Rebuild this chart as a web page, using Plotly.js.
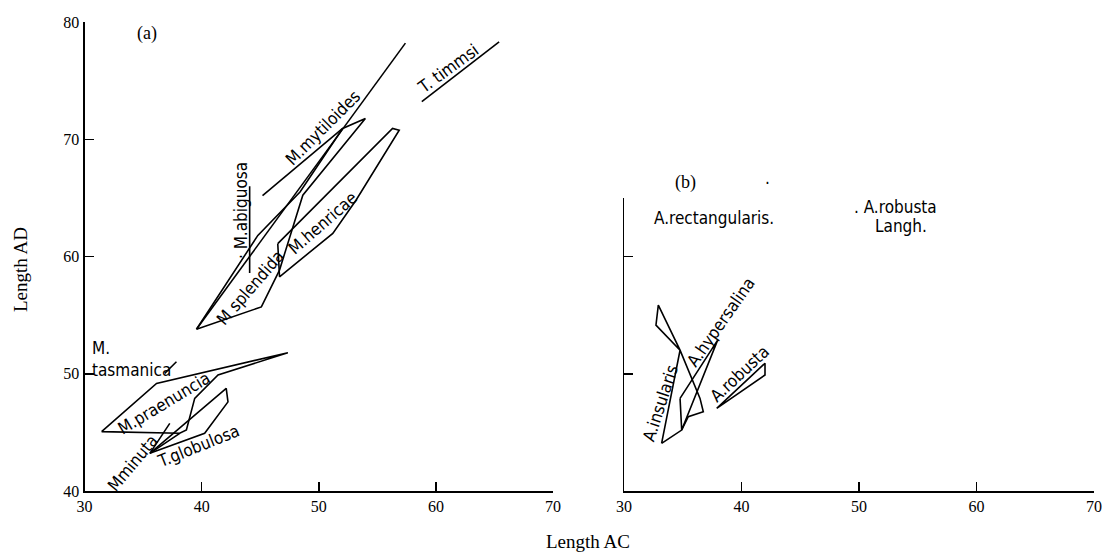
<!DOCTYPE html>
<html>
<head>
<meta charset="utf-8">
<script src="https://cdn.plot.ly/plotly-3.0.1.min.js"></script>
<style>
html,body{margin:0;padding:0;background:#fff;}
#chart{width:1107px;height:555px;}
</style>
</head>
<body>
<div id="chart"></div>
<script>
// ---- Panel (a) data: Length AC (x) vs Length AD (y) ----
const mytiloidesLineX = [39.56, 57.4];
const mytiloidesLineY = [53.79, 78.2];
const mytiloidesTickX = [45.2, 52.04];
const mytiloidesTickY = [65.2, 70.92];
const timmsiX = [58.8, 65.4];
const timmsiY = [73.2, 78.3];
const abiguosaX = [44.1, 44.1];
const abiguosaY = [66.0, 58.6];
const splendidaX = [39.56, 44.8, 48.4, 52.04, 53.98, 48.64, 46.65, 45.1, 39.56];
const splendidaY = [53.79, 61.8, 65.5, 70.92, 71.77, 65.23, 58.84, 55.7, 53.79];
const henricaeX = [46.5, 46.65, 51.2, 53.18, 56.87, 56.3, 46.5];
const henricaeY = [61.1, 58.27, 61.97, 64.8, 70.77, 70.92, 61.1];
const tasmanicaX = [36.85, 37.85];
const tasmanicaY = [50.03, 51.02];
const praenunciaX = [31.46, 36.15, 47.36, 41.4, 39.41, 38.7, 38.13, 31.46];
const praenunciaY = [45.06, 49.18, 51.79, 49.9, 47.9, 45.2, 44.92, 45.06];
const minutaX = [37.28, 35.58, 38.13];
const minutaY = [45.77, 43.21, 44.92];
const globulosaX = [35.58, 40.26, 42.25, 42.1, 35.58];
const globulosaY = [43.21, 44.92, 47.6, 48.76, 43.21];

// ---- Panel (b) data ----
const insularisX = [33.2, 34.77, 32.72, 32.92, 34.77, 36.47, 36.75, 35.47, 34.91, 33.2];
const insularisY = [44.07, 52.02, 54.15, 55.86, 52.02, 47.9, 46.76, 46.34, 45.2, 44.07];
const hypersalinaX = [34.77, 37.97, 34.91, 34.77];
const hypersalinaY = [47.9, 52.87, 45.2, 47.9];
const robustaX = [37.89, 42.0, 42.0, 37.89];
const robustaY = [47.05, 50.9, 49.9, 47.05];

// ---- Axis ticks ----
const xTicks = [30, 40, 50, 60, 70];
const yTicksA = [40, 50, 60, 70, 80];
const yTicksB = [50, 60, 65];

const W = 1107, H = 555;
const lineStyle = {color: '#000', width: 1.6};
function tr(x, y, ax) {
  return {x: x, y: y, mode: 'lines', line: lineStyle, hoverinfo: 'skip',
          showlegend: false, xaxis: ax ? 'x2' : 'x', yaxis: ax ? 'y2' : 'y'};
}
const traces = [
  tr(mytiloidesLineX, mytiloidesLineY),
  tr(mytiloidesTickX, mytiloidesTickY),
  tr(timmsiX, timmsiY),
  tr(abiguosaX, abiguosaY),
  tr(splendidaX, splendidaY),
  tr(henricaeX, henricaeY),
  tr(tasmanicaX, tasmanicaY),
  tr(praenunciaX, praenunciaY),
  tr(minutaX, minutaY),
  tr(globulosaX, globulosaY),
  tr(insularisX, insularisY, 2),
  tr(hypersalinaX, hypersalinaY, 2),
  tr(robustaX, robustaY, 2)
];

const labFont = {family: "'Liberation Sans Narrow', 'DejaVu Sans Condensed', 'Liberation Sans', sans-serif", size: 17, color: '#000'};
function lab(text, x, y, ang, ax, extra) {
  return Object.assign({text: text, x: x, y: y, textangle: ang, showarrow: false,
    xanchor: 'center', yanchor: 'middle',
    xref: ax ? 'x2' : 'x', yref: ax ? 'y2' : 'y', font: labFont}, extra || {});
}
function plab(text, px, py, font) {
  return {text: text, x: px / W, y: (H - py) / H, xref: 'paper', yref: 'paper',
    xanchor: 'center', yanchor: 'middle', showarrow: false, font: font};
}
const serif = "'Liberation Serif', 'DejaVu Serif', serif";
const panelFont = {family: serif, size: 18, color: '#000'};

const annotations = [
  lab('(a)', 35.3, 79.0, 0, 0, {font: panelFont}),
  lab('M.mytiloides', 50.3, 71.0, -45),
  lab('T. timmsi', 61.0, 76.0, -36),
  lab('· M.abiguosa', 43.3, 63.9, -90),
  lab('M splendida', 44.1, 57.35, -49),
  lab('M.henricae', 50.3, 62.9, -41),
  lab('M.<br>tasmanica', 30.5, 51.3, 0, 0, {xanchor: 'left', align: 'left'}),
  lab('M.praenuncia', 36.8, 47.5, -31),
  lab('T.globulosa', 39.7, 43.8, -22),
  lab('Mminuta', 34.1, 42.4, -50),
  plab('(b)', 685, 183, panelFont),
  plab('.', 767, 178, labFont),
  lab('A.rectangularis.', 37.7, 63.3, 0, 2),
  lab('. A.robusta', 49.4, 64.2, 0, 2, {xanchor: 'left'}),
  lab('Langh.', 51.2, 62.6, 0, 2, {xanchor: 'left'}),
  lab('A.insularis', 33.1, 47.5, -72, 2),
  lab('A.hypersalina', 38.25, 54.4, -55, 2),
  lab('A.robusta', 39.8, 50.0, -43, 2),
  Object.assign(plab('Length AD', 20, 270, {family: serif, size: 19, color: '#000'}), {textangle: -90}),
  plab('Length AC', 588, 541, {family: serif, size: 19, color: '#000'})
];

const axBase = {showgrid: false, zeroline: false, showline: true, linecolor: '#000', linewidth: 2,
  ticks: 'inside', ticklen: 9, tickwidth: 1.5, tickcolor: '#000', mirror: false,
  tickfont: {family: serif, size: 16, color: '#000'}, fixedrange: true};

const yBot = (H - 491) / H;
const layout = {
  width: W, height: H,
  margin: {l: 0, r: 0, t: 0, b: 0},
  paper_bgcolor: '#fff', plot_bgcolor: '#fff',
  showlegend: false,
  xaxis: Object.assign({}, axBase, {domain: [84.5 / W, 553 / W], range: [30, 70],
    tickvals: xTicks, ticktext: xTicks.map(String), anchor: 'y'}),
  yaxis: Object.assign({}, axBase, {domain: [yBot, (H - 22) / H], range: [40, 80],
    tickvals: yTicksA, ticktext: yTicksA.map(String), anchor: 'x'}),
  xaxis2: Object.assign({}, axBase, {domain: [624 / W, 1094 / W], range: [30, 70],
    tickvals: xTicks, ticktext: xTicks.map(String), anchor: 'y2'}),
  yaxis2: Object.assign({}, axBase, {domain: [yBot, (H - 198) / H], range: [40, 65],
    tickvals: yTicksB, showticklabels: false, anchor: 'x2', linewidth: 1.5}),
  annotations: annotations
};

Plotly.newPlot('chart', traces, layout, {staticPlot: true, displayModeBar: false});
</script>
</body>
</html>
